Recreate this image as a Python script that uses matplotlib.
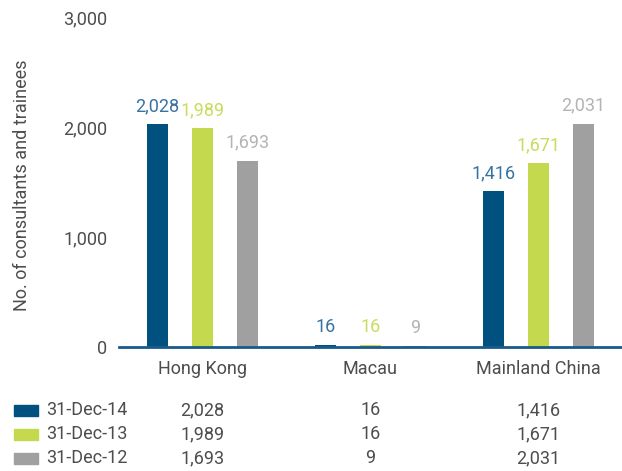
import matplotlib.pyplot as plt
import matplotlib.patches as mpatches
import numpy as np

plt.rcParams['font.family'] = ['Roboto', 'DejaVu Sans']

# Data
regions = ['Hong Kong', 'Macau', 'Mainland China']
series_names = ['31-Dec-14', '31-Dec-13', '31-Dec-12']
dec14 = [2028, 16, 1416]
dec13 = [1989, 16, 1671]
dec12 = [1693, 9, 2031]
yticks = [0, 1000, 2000, 3000]

bar_colors = ['#00517f', '#c4d94e', '#a0a0a0']
label_colors = ['#3673a3', '#c9dc5e', '#b4b4b4']
text_color = '#4d4d4d'

W, H = 622, 471
fig = plt.figure(figsize=(W / 100, H / 100), dpi=100)
ax = fig.add_axes([118.5 / W, 1 - 347 / H, 1 - 118.5 / W, (347 - 17) / H])

x = np.arange(len(regions))
width = 0.125
offset = 0.268
all_series = [dec14, dec13, dec12]

for i, vals in enumerate(all_series):
    pos = x + (i - 1) * offset
    ax.bar(pos, vals, width=width, color=bar_colors[i], zorder=2)
    for p, v in zip(pos, vals):
        ax.annotate(f'{v:,}', (p, v), xytext=(0, 6.5), textcoords='offset points',
                    ha='center', va='bottom', fontsize=13, color=label_colors[i])

ax.set_xlim(-0.5, 2.5)
ax.set_ylim(0, 3000)
ax.set_yticks(yticks)
ax.set_yticklabels([f'{t:,}' for t in yticks], fontsize=13, color=text_color)
ax.set_xticks(x)
ax.set_xticklabels(regions, fontsize=13, color=text_color)
ax.tick_params(axis='both', length=0)
ax.tick_params(axis='y', pad=8)
ax.tick_params(axis='x', pad=9)
for s in ['top', 'right', 'left']:
    ax.spines[s].set_visible(False)
ax.spines['bottom'].set_color('#1a5a8a')
ax.spines['bottom'].set_linewidth(2)
ax.spines['bottom'].set_zorder(3)

fig.text(22 / W, 1 - 185 / H, 'No. of consultants and trainees', rotation=90,
         ha='center', va='center', fontsize=13, color=text_color)

# table legend under the chart
row_y = [410, 434, 458]
col_x = [ax.transData.transform((c, 0))[0] for c in x]
for i, vals in enumerate(all_series):
    yy = 1 - row_y[i] / H
    fig.patches.append(mpatches.Rectangle((14 / W, yy - 5.5 / H), 24 / W, 11 / H,
                                          transform=fig.transFigure,
                                          color=bar_colors[i]))
    fig.text(46 / W, yy, series_names[i], ha='left', va='center',
             fontsize=13, color=text_color)
    for cx, v in zip(col_x, vals):
        fig.text(cx / W, yy, f'{v:,}', ha='center', va='center',
                 fontsize=13, color=text_color)

fig.savefig('out.png', dpi=100)
